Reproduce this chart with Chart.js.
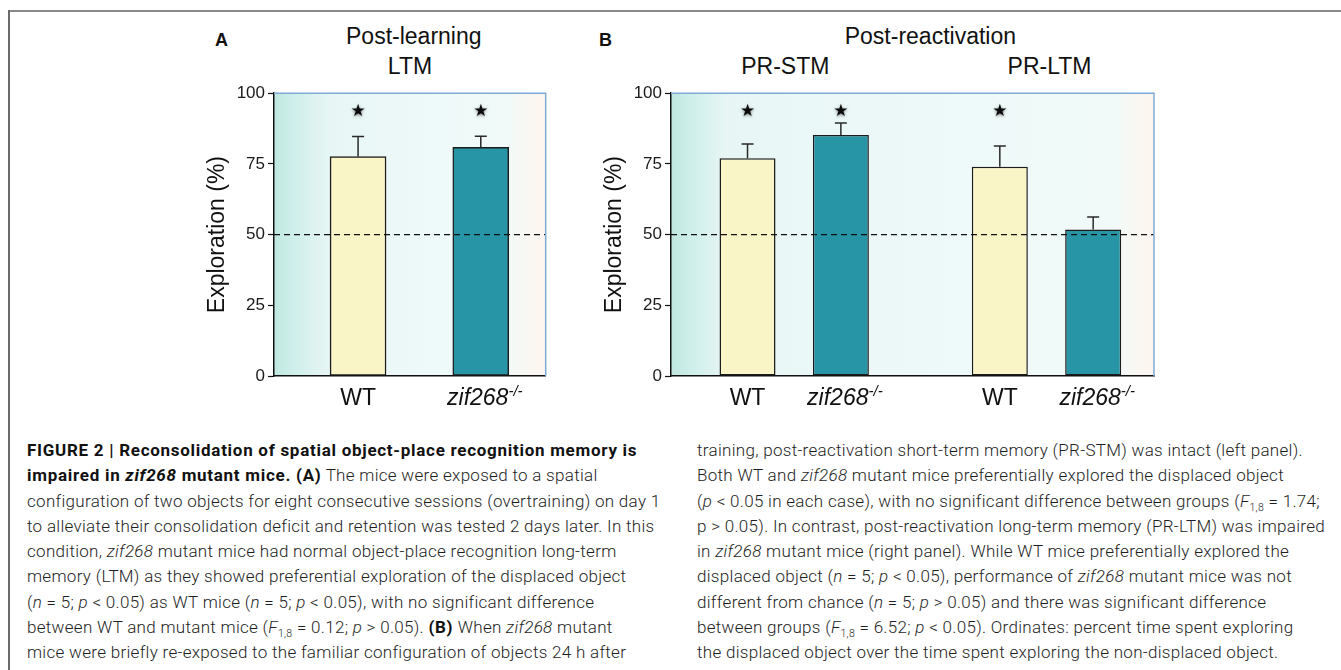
<!DOCTYPE html>
<html>
<head>
<meta charset="utf-8">
<script src="https://cdn.jsdelivr.net/npm/chart.js"></script>
<style>
html,body{margin:0;padding:0;background:#fff;width:1341px;height:670px;overflow:hidden;position:relative;}
#frameTop{position:absolute;left:8px;top:10px;width:1333px;height:2px;background:#8a8a8a;}
#frameLeft{position:absolute;left:8px;top:10px;width:2px;height:660px;background:#6a6a6a;}
.t{position:absolute;font-family:"Liberation Sans",Arial,sans-serif;color:#111;white-space:nowrap;font-size:23px;line-height:23px;}
.c{transform:translateX(-50%);}
.lett{font-weight:bold;font-size:18px;line-height:18px;}
canvas{position:absolute;}
.cap{position:absolute;top:438px;font-family:Roboto,"Liberation Sans",sans-serif;font-weight:300;font-size:17px;line-height:25.3px;color:#1e1e1e;white-space:nowrap;letter-spacing:0.3px;}
.cap b{font-weight:700;color:#111;letter-spacing:0.72px;}
.cap b i{letter-spacing:0.72px;}
.sub{font-size:10.5px;position:relative;top:4px;line-height:0;}
</style>
</head>
<body>
<div id="frameTop"></div>
<div id="frameLeft"></div>

<div class="t lett" style="left:215px;top:30.8px;">A</div>
<div class="t c" style="left:413.8px;top:24.5px;">Post-learning</div>
<div class="t c" style="left:410px;top:54.5px;">LTM</div>
<div class="t lett" style="left:599px;top:30.8px;">B</div>
<div class="t c" style="left:930.4px;top:24.5px;">Post-reactivation</div>
<div class="t c" style="left:785.3px;top:54.5px;">PR-STM</div>
<div class="t c" style="left:1049.5px;top:54.5px;">PR-LTM</div>

<canvas id="cA" width="360" height="340" style="left:200px;top:80px;width:360px;height:340px;"></canvas>
<canvas id="cB" width="573" height="340" style="left:597px;top:80px;width:573px;height:340px;"></canvas>

<div class="cap" style="left:27px;">
<b>FIGURE 2 | Reconsolidation of spatial object-place recognition memory is</b><br>
<b>impaired in <i>zif268</i> mutant mice. (A)</b> The mice were exposed to a spatial<br>
configuration of two objects for eight consecutive sessions (overtraining) on day 1<br>
to alleviate their consolidation deficit and retention was tested 2 days later. In this<br>
condition, <i>zif268</i> mutant mice had normal object-place recognition long-term<br>
memory (LTM) as they showed preferential exploration of the displaced object<br>
(<i>n</i> = 5; <i>p</i> &lt; 0.05) as WT mice (<i>n</i> = 5; <i>p</i> &lt; 0.05), with no significant difference<br>
between WT and mutant mice (<i>F</i><span class="sub">1,8</span> = 0.12; <i>p</i> &gt; 0.05). <b>(B)</b> When <i>zif268</i> mutant<br>
mice were briefly re-exposed to the familiar configuration of objects 24 h after
</div>
<div class="cap" style="left:697px;">
training, post-reactivation short-term memory (PR-STM) was intact (left panel).<br>
Both WT and <i>zif268</i> mutant mice preferentially explored the displaced object<br>
(<i>p</i> &lt; 0.05 in each case), with no significant difference between groups (<i>F</i><span class="sub">1,8</span> = 1.74;<br>
p &gt; 0.05). In contrast, post-reactivation long-term memory (PR-LTM) was impaired<br>
in <i>zif268</i> mutant mice (right panel). While WT mice preferentially explored the<br>
displaced object (<i>n</i> = 5; <i>p</i> &lt; 0.05), performance of <i>zif268</i> mutant mice was not<br>
different from chance (<i>n</i> = 5; <i>p</i> &gt; 0.05) and there was significant difference<br>
between groups (<i>F</i><span class="sub">1,8</span> = 6.52; <i>p</i> &lt; 0.05). Ordinates: percent time spent exploring<br>
the displaced object over the time spent exploring the non-displaced object.
</div>

<script>
// ---------- data ----------
const yTicks = [0, 25, 50, 75, 100];
const chanceLevel = 50;
const starLevel = 93.5;

// Panel A: post-learning LTM
const panelAGenotypes = ['WT', 'zif268'];
const panelAMeans = [77.6, 80.9];
const panelASem = [7.1, 3.9];
const panelASig = [true, true];

// Panel B: post-reactivation (PR-STM, PR-LTM)
const panelBConditions = ['PR-STM', 'PR-LTM'];
const panelBWTMeans = [77.0, 74.0];
const panelBWTSem = [5.0, 7.3];
const panelBWTSig = [true, true];
const panelBMutMeans = [85.2, 51.8];
const panelBMutSem = [4.3, 4.4];
const panelBMutSig = [true, false];

// ---------- styles ----------
const CREAM = '#faf5c7';
const TEAL = '#2795a6';
const EDGE = '#1c1c1c';
const FONT = '"Liberation Sans", Arial, sans-serif';

const bgPlugin = {
  id: 'bg',
  beforeDraw(chart) {
    const {ctx, chartArea: a} = chart;
    const w = a.right - a.left;
    const g = ctx.createLinearGradient(a.left, 0, a.right, 0);
    g.addColorStop(0, '#bfe7e0');
    g.addColorStop(Math.min(0.5, 18 / w), '#cdeeea');
    g.addColorStop(Math.min(0.6, 55 / w), '#e7f6f4');
    g.addColorStop(0.5, '#edf9f9');
    g.addColorStop(Math.max(0.5, 1 - 40 / w), '#f1faf9');
    g.addColorStop(Math.max(0.6, 1 - 15 / w), '#faf6f1');
    g.addColorStop(1, '#fdf5f0');
    ctx.save();
    ctx.fillStyle = g;
    ctx.fillRect(a.left, a.top, w, a.bottom - a.top);
    ctx.restore();
  }
};

function drawGenotype(ctx, name, x, y) {
  ctx.fillStyle = '#111';
  ctx.textBaseline = 'alphabetic';
  if (name === 'WT') {
    ctx.font = '23px ' + FONT;
    ctx.textAlign = 'center';
    ctx.fillText(name, x, y);
  } else {
    const sup = '-/-';
    ctx.font = 'italic 23px ' + FONT;
    const w1 = ctx.measureText(name).width;
    ctx.font = 'italic 15px ' + FONT;
    const w2 = ctx.measureText(sup).width;
    const start = x - (w1 + w2) / 2 + 4;
    ctx.textAlign = 'left';
    ctx.font = 'italic 23px ' + FONT;
    ctx.fillText(name, start, y);
    ctx.font = 'italic 15px ' + FONT;
    ctx.fillText(sup, start + w1, y - 9);
  }
}

const decorPlugin = {
  id: 'decor',
  afterDatasetsDraw(chart) {
    const {ctx, chartArea: a, scales: {y}} = chart;
    ctx.save();
    // chance level dashed line
    const yc = y.getPixelForValue(chanceLevel);
    ctx.setLineDash([6, 4]);
    ctx.lineWidth = 1.3;
    ctx.strokeStyle = '#111';
    ctx.beginPath();
    ctx.moveTo(a.left, yc);
    ctx.lineTo(a.right, yc);
    ctx.stroke();
    ctx.setLineDash([]);
    // error bars, stars, labels
    chart.data.datasets.forEach((ds, di) => {
      const meta = chart.getDatasetMeta(di);
      meta.data.forEach((bar, i) => {
        const v = ds.data[i].y;
        const yTop = y.getPixelForValue(v + ds.errors[i]);
        ctx.strokeStyle = '#2a2a2a';
        ctx.lineWidth = 1.5;
        ctx.beginPath();
        ctx.moveTo(bar.x, bar.y);
        ctx.lineTo(bar.x, yTop);
        ctx.moveTo(bar.x - 6, yTop);
        ctx.lineTo(bar.x + 6, yTop);
        ctx.stroke();
        if (ds.sig[i]) {
          ctx.save();
          ctx.font = '17px "DejaVu Sans", sans-serif';
          ctx.textAlign = 'center';
          ctx.textBaseline = 'middle';
          ctx.shadowColor = 'rgba(0,0,0,0.5)';
          ctx.shadowBlur = 3;
          ctx.shadowOffsetY = 1;
          ctx.fillStyle = '#0a0a0a';
          ctx.fillText('\u2605', bar.x, y.getPixelForValue(starLevel));
          ctx.restore();
        }
        drawGenotype(ctx, ds.names[i], bar.x, a.bottom + 29);
      });
    });
    // top / right frame of plot
    ctx.strokeStyle = '#7eaad8';
    ctx.lineWidth = 1.5;
    ctx.beginPath();
    ctx.moveTo(a.left, a.top);
    ctx.lineTo(a.right, a.top);
    ctx.lineTo(a.right, a.bottom);
    ctx.stroke();
    ctx.restore();
  }
};

function yScale() {
  return {
    min: 0, max: 100,
    afterBuildTicks(s) { s.ticks = yTicks.map(v => ({value: v})); },
    ticks: {color: '#1a1a1a', font: {family: FONT, size: 17}, padding: 3},
    grid: {drawOnChartArea: false, drawTicks: true, tickLength: 6, tickColor: '#111', tickWidth: 1.2},
    border: {display: true, color: '#111', width: 1.5},
    title: {display: true, text: 'Exploration (%)', color: '#111', font: {family: FONT, size: 23}, padding: {top: 4.2, bottom: 0}},
    afterFit(s) { s.width = 74; }
  };
}

function xScale(n, min, max) {
  return {
    type: 'linear', min: min, max: max, offset: false,
    afterBuildTicks(s) { s.ticks = Array.from({length: n}, (_, i) => ({value: i})); },
    ticks: {display: false},
    grid: {display: false},
    border: {display: true, color: '#111', width: 1.5},
    afterFit(s) { s.height = 44; }
  };
}

const common = {
  responsive: false,
  animation: false,
  devicePixelRatio: 1,
  plugins: {legend: {display: false}, tooltip: {enabled: false}, title: {display: false}}
};

new Chart(document.getElementById('cA'), {
  type: 'bar',
  data: {
    datasets: [{
      data: panelAGenotypes.map((g, i) => ({x: i, y: panelAMeans[i]})),
      backgroundColor: [CREAM, TEAL],
      borderColor: EDGE, borderWidth: 1.5, borderSkipped: false,
      barThickness: 56,
      errors: panelASem, sig: panelASig, names: panelAGenotypes
    }]
  },
  options: Object.assign({}, common, {
    layout: {padding: {top: 11, right: 14.3, bottom: 0, left: 0}},
    scales: {x: xScale(panelAGenotypes.length, -0.685, 1.529), y: yScale()}
  }),
  plugins: [bgPlugin, decorPlugin]
});

new Chart(document.getElementById('cB'), {
  type: 'bar',
  data: {
    datasets: [{
      label: 'WT',
      data: panelBConditions.map((c, i) => ({x: i, y: panelBWTMeans[i]})),
      backgroundColor: CREAM,
      borderColor: EDGE, borderWidth: 1.5, borderSkipped: false,
      categoryPercentage: 0.74, barPercentage: 0.6,
      errors: panelBWTSem, sig: panelBWTSig, names: panelBConditions.map(() => 'WT')
    }, {
      label: 'zif268',
      data: panelBConditions.map((c, i) => ({x: i, y: panelBMutMeans[i]})),
      backgroundColor: TEAL,
      borderColor: EDGE, borderWidth: 1.5, borderSkipped: false,
      categoryPercentage: 0.74, barPercentage: 0.6,
      errors: panelBMutSem, sig: panelBMutSig, names: panelBConditions.map(() => 'zif268')
    }]
  },
  options: Object.assign({}, common, {
    layout: {padding: {top: 11, right: 16, bottom: 0, left: 0}},
    scales: {x: xScale(panelBConditions.length, -0.4883, 1.4261), y: yScale()}
  }),
  plugins: [bgPlugin, decorPlugin]
});
</script>
</body>
</html>
